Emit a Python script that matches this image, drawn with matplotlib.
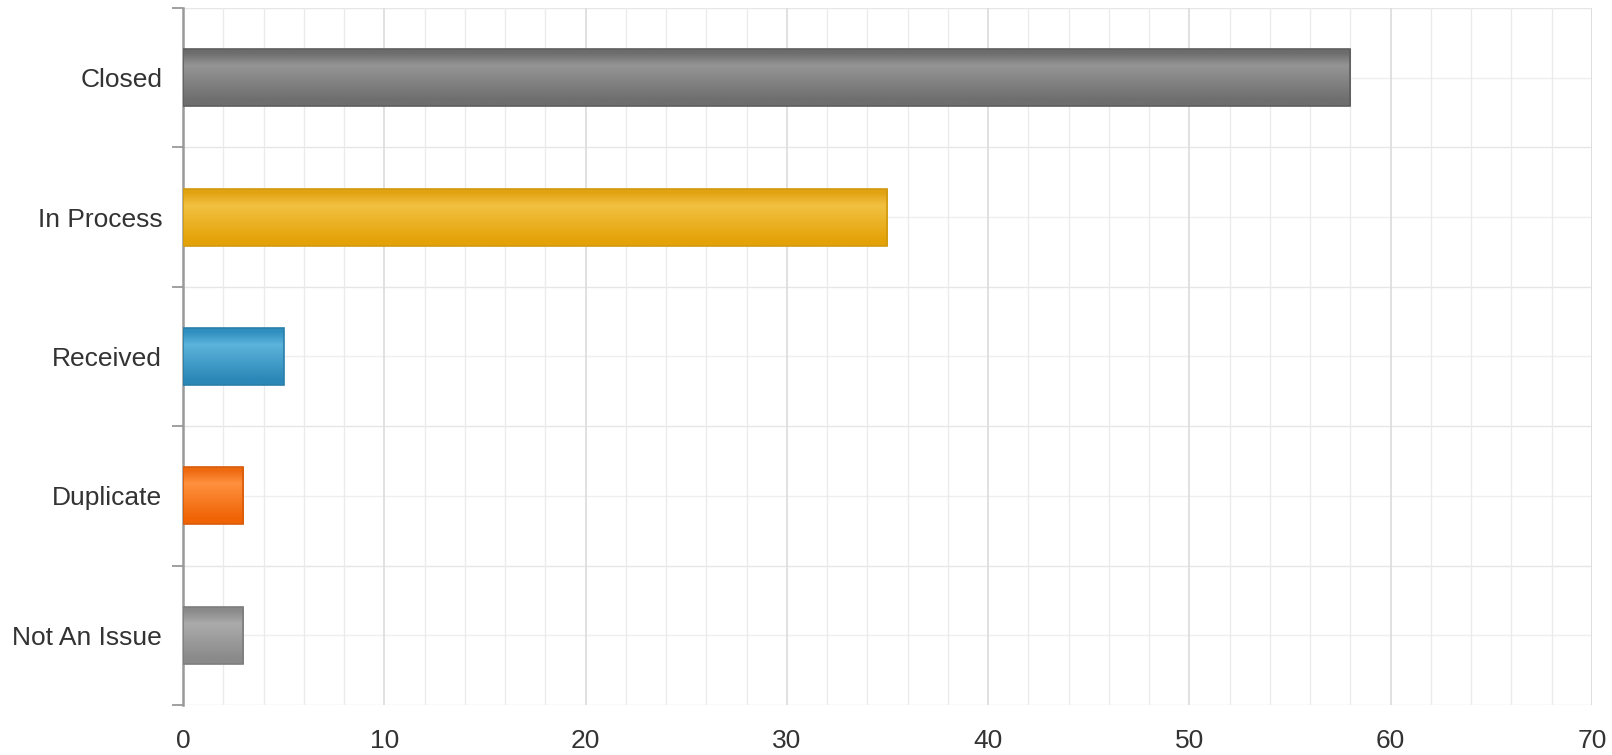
import matplotlib
matplotlib.use("Agg")
import matplotlib.pyplot as plt
import numpy as np
from matplotlib.colors import LinearSegmentedColormap
from matplotlib.ticker import MultipleLocator

# data (top to bottom)
categories = ["Closed", "In Process", "Received", "Duplicate", "Not An Issue"]
counts = [58, 35, 5, 3, 3]
# gradient stops per bar: top edge, highlight, bottom
bar_shades = [
    ("#6c6c6c", "#959595", "#6e6e6e"),
    ("#e2a312", "#f2c142", "#e4a208"),
    ("#2f8fbf", "#5cb3db", "#2c88b8"),
    ("#ee6a10", "#ff903e", "#f06406"),
    ("#8a8a8a", "#ababab", "#8a8a8a"),
]
edge_colors = ["#5e5e5e", "#d09a10", "#2a7faa", "#d85c0a", "#7d7d7d"]
xticks = [0, 10, 20, 30, 40, 50, 60, 70]

plt.rcParams["font.family"] = ["Liberation Sans", "DejaVu Sans"]

fig = plt.figure(figsize=(16.12, 7.55), dpi=100)
ax = fig.add_axes([183 / 1612, 1 - 705 / 755, (1592 - 183) / 1612, (705 - 8) / 755])

n = len(categories)
y = np.arange(n)[::-1]
bars = ax.barh(y, counts, height=0.41, color="none", edgecolor="none", zorder=3)

# vertical gradient fill clipped to each bar
for bar, shades, ec in zip(bars, bar_shades, edge_colors):
    x0, y0 = bar.get_x(), bar.get_y()
    w, h = bar.get_width(), bar.get_height()
    cmap = LinearSegmentedColormap.from_list(
        "g", [(0, shades[0]), (0.08, shades[0]), (0.3, shades[1]), (0.9, shades[2]), (1, shades[2])]
    )
    grad = np.linspace(0, 1, 256).reshape(-1, 1)
    im = ax.imshow(grad, cmap=cmap, aspect="auto", extent=(x0, x0 + w, y0, y0 + h),
                   origin="upper", zorder=3, interpolation="bilinear")
    im.set_clip_path(bar)
    ax.add_patch(plt.Rectangle((x0, y0), w, h, fill=False, edgecolor=ec, lw=1.2, zorder=4))

ax.set_xlim(0, 70)
ax.set_ylim(-0.5, n - 0.5)

# grid: minor every 2 on x, boundaries + centres on y
ax.xaxis.set_minor_locator(MultipleLocator(2))
ax.set_xticks(xticks)
ax.set_xticklabels([str(t) for t in xticks])
ax.grid(axis="x", which="major", color="#dedede", lw=1.3, zorder=0)
ax.grid(axis="x", which="minor", color="#ebebeb", lw=1.0, zorder=0)

boundaries = np.arange(n + 1) - 0.5
for b in boundaries:
    ax.axhline(b, color="#e6e6e6", lw=1.0, zorder=0)
for yc in y:
    ax.axhline(yc, color="#efefef", lw=1.0, zorder=0)

ax.set_yticks(boundaries, minor=False)
ax.set_yticklabels([""] * len(boundaries))
ax.set_yticks(y, minor=True)
ax.set_yticklabels(categories, minor=True)

ax.tick_params(axis="y", which="major", length=8, width=1.3, color="#999999", direction="out")
ax.tick_params(axis="y", which="minor", length=0, pad=15, labelsize=19, labelcolor="#333333")
ax.tick_params(axis="x", which="both", length=0, pad=17, labelsize=19, labelcolor="#333333")

for s in ["top", "right", "bottom"]:
    ax.spines[s].set_visible(False)
ax.spines["left"].set_color("#999999")
ax.spines["left"].set_linewidth(1.8)
ax.axvline(70, color="#e3e3e3", lw=1.2, zorder=0)

fig.savefig("out.png", dpi=100)
